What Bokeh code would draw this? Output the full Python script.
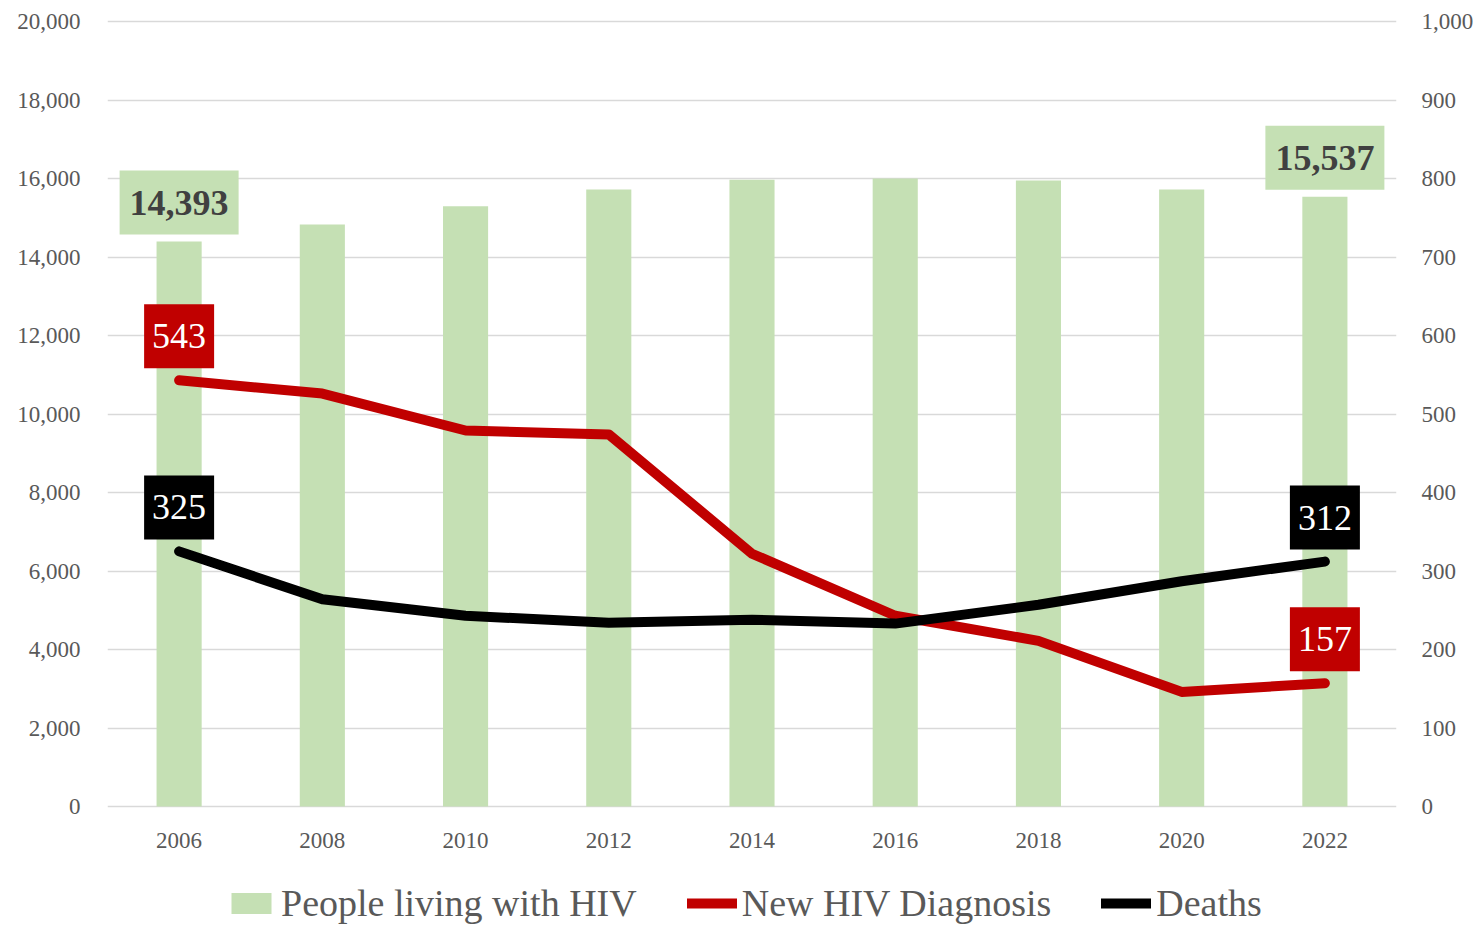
from bokeh.plotting import figure
from bokeh.models import (ColumnDataSource, Range1d, LinearAxis, FixedTicker,
                          NumeralTickFormatter, Label, Legend, LegendItem, FactorRange)
from bokeh.core.properties import value
from bokeh.embed import file_html
from bokeh.resources import INLINE

years = ["2006", "2008", "2010", "2012", "2014", "2016", "2018", "2020", "2022"]
people_living = [14393, 14830, 15290, 15720, 15970, 16000, 15950, 15720, 15537]
new_diagnoses = [543, 526, 479, 474, 322, 243, 211, 146, 157]
deaths = [325, 264, 243, 234, 238, 233, 257, 287, 312]
left_ticks = list(range(0, 20001, 2000))
right_ticks = list(range(0, 1001, 100))
label_idx = [0, 8]

FONT = "Liberation Serif"
GREEN = "#c5e0b4"
RED = "#c00000"
BLACK = "#000000"
TICK_COLOR = "#595959"

# layout: value axis spans 785 px; extra room below 0 holds year labels and legend
AXIS_PX = 785
TOP_PAD_PX = 2
BOTTOM_PAD_PX = 121
LEFT_MAX, RIGHT_MAX = 20000, 1000
u_left = LEFT_MAX / AXIS_PX
u_right = RIGHT_MAX / AXIS_PX

xr = FactorRange(*years, range_padding=0, factor_padding=0)
p = figure(x_range=xr,
           y_range=Range1d(-BOTTOM_PAD_PX * u_left, LEFT_MAX + TOP_PAD_PX * u_left),
           width=1476, height=19 + AXIS_PX + TOP_PAD_PX + BOTTOM_PAD_PX,
           output_backend="svg", toolbar_location=None, x_axis_location=None,
           min_border_left=107, min_border_right=80, min_border_top=19, min_border_bottom=0)
p.extra_y_ranges = {"right": Range1d(-BOTTOM_PAD_PX * u_right, RIGHT_MAX + TOP_PAD_PX * u_right)}

p.yaxis.ticker = FixedTicker(ticks=left_ticks)
p.yaxis.formatter = NumeralTickFormatter(format="0,0")
p.yaxis.major_label_standoff = 21
ra = LinearAxis(y_range_name="right", ticker=FixedTicker(ticks=right_ticks),
                formatter=NumeralTickFormatter(format="0,0"))
ra.major_label_standoff = 19
p.add_layout(ra, "right")

for ax in p.axis:
    ax.axis_line_color = None
    ax.major_tick_line_color = None
    ax.minor_tick_line_color = None
    ax.major_label_text_font = FONT
    ax.major_label_text_color = TICK_COLOR
    ax.major_label_text_font_size = "23px"

for g in p.xgrid:
    g.visible = False
p.ygrid.ticker = FixedTicker(ticks=left_ticks)
p.ygrid.grid_line_color = "#d9d9d9"
p.ygrid.grid_line_width = 1.5
p.outline_line_color = None

src = ColumnDataSource(dict(year=years, people=people_living, new=new_diagnoses,
                            deaths=deaths, base=[0] * len(years)))

bars = p.vbar(x="year", top="people", bottom="base", width=0.315, source=src,
              fill_color=GREEN, line_color=None)
l_new = p.line(x="year", y="new", source=src, y_range_name="right", line_color=RED,
               line_width=10, line_join="round", line_cap="round")
l_dead = p.line(x="year", y="deaths", source=src, y_range_name="right", line_color=BLACK,
                line_width=10, line_join="round", line_cap="round")

# category (year) labels under the baseline
p.text(x="year", y="base", text="year", source=src, y_offset=34,
       text_align="center", text_baseline="middle", text_font=value(FONT),
       text_font_size="23px", text_color=TICK_COLOR)

def add_labels(vals, rng, yoff, tcolor, bg, style, pad):
    for i in label_idx:
        # synthetic categorical coordinate of factor i is i + 0.5
        p.add_layout(Label(x=i + 0.5, y=vals[i], y_range_name=rng, y_offset=yoff,
                           text=f"{vals[i]:,}", text_align="center", text_baseline="middle",
                           text_font=FONT, text_font_size="36px", text_font_style=style,
                           text_color=tcolor, background_fill_color=bg, padding=pad))

add_labels(people_living, "default", 39, "#404040", GREEN, "bold", (10, 20))
add_labels(new_diagnoses, "right", 44, "white", RED, "normal", (8, 20))
add_labels(deaths, "right", 44, "white", BLACK, "normal", (8, 20))

legend = Legend(items=[LegendItem(label="People living with HIV", renderers=[bars]),
                       LegendItem(label="New HIV Diagnosis", renderers=[l_new]),
                       LegendItem(label="Deaths", renderers=[l_dead])],
                orientation="horizontal", location=(119, 2),
                label_text_font=FONT, label_text_font_size="38px", label_text_color=TICK_COLOR,
                glyph_width=50, glyph_height=26, label_standoff=5, spacing=50,
                padding=0, margin=0, border_line_color=None, background_fill_alpha=0)
p.add_layout(legend, "center")

open("out.html", "w").write(file_html(p, INLINE))
